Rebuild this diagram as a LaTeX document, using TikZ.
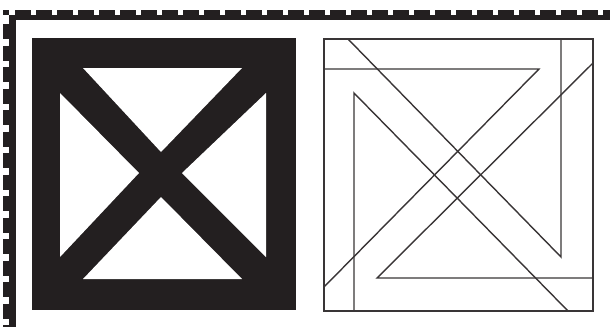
\documentclass[tikz,border=0pt]{standalone}
\usepackage{tikz}

\definecolor{ink}{RGB}{35,31,32}

\begin{document}
\begin{tikzpicture}[
    x=1pt, y=-1pt,
    border/.style={fill=ink},
    hole/.style={fill=white},
    stroke/.style={line width=1.4pt, draw=ink!90, line join=miter}
]
\useasboundingbox (0,0) rectangle (610,327);

% dashed border, top and left
\fill[border] (9,14.5) rectangle (610,19.5);
\fill[border] (9,14.5) rectangle (16,327);
\draw[ink, line width=4.5pt, dash pattern=on 16pt off 5pt] (15,12.25) -- (610,12.25);
\draw[ink, line width=6pt, dash pattern=on 15pt off 6.5pt] (6,24) -- (6,327);
\fill[border] (3,10) rectangle (9,15);

% solid box with the cross
\fill[border] (32,38) rectangle (296,310);
\fill[hole] (83,68) -- (242,68) -- (161,152) -- cycle;
\fill[hole] (60,93) -- (60,257) -- (139,173) -- cycle;
\fill[hole] (266,93) -- (266,257) -- (182,173) -- cycle;
\fill[hole] (83,279) -- (242,279) -- (161,197) -- cycle;

% outline version
\draw[stroke] (324,39) rectangle (593,311);
\draw[stroke] (324,69) -- (539,69) -- (324,287);
\draw[stroke] (593,63) -- (377,278) -- (593,278);
\draw[stroke] (561,39) -- (561,257) -- (348,39);
\draw[stroke] (354,311) -- (354,93) -- (568,311);
\end{tikzpicture}
\end{document}
